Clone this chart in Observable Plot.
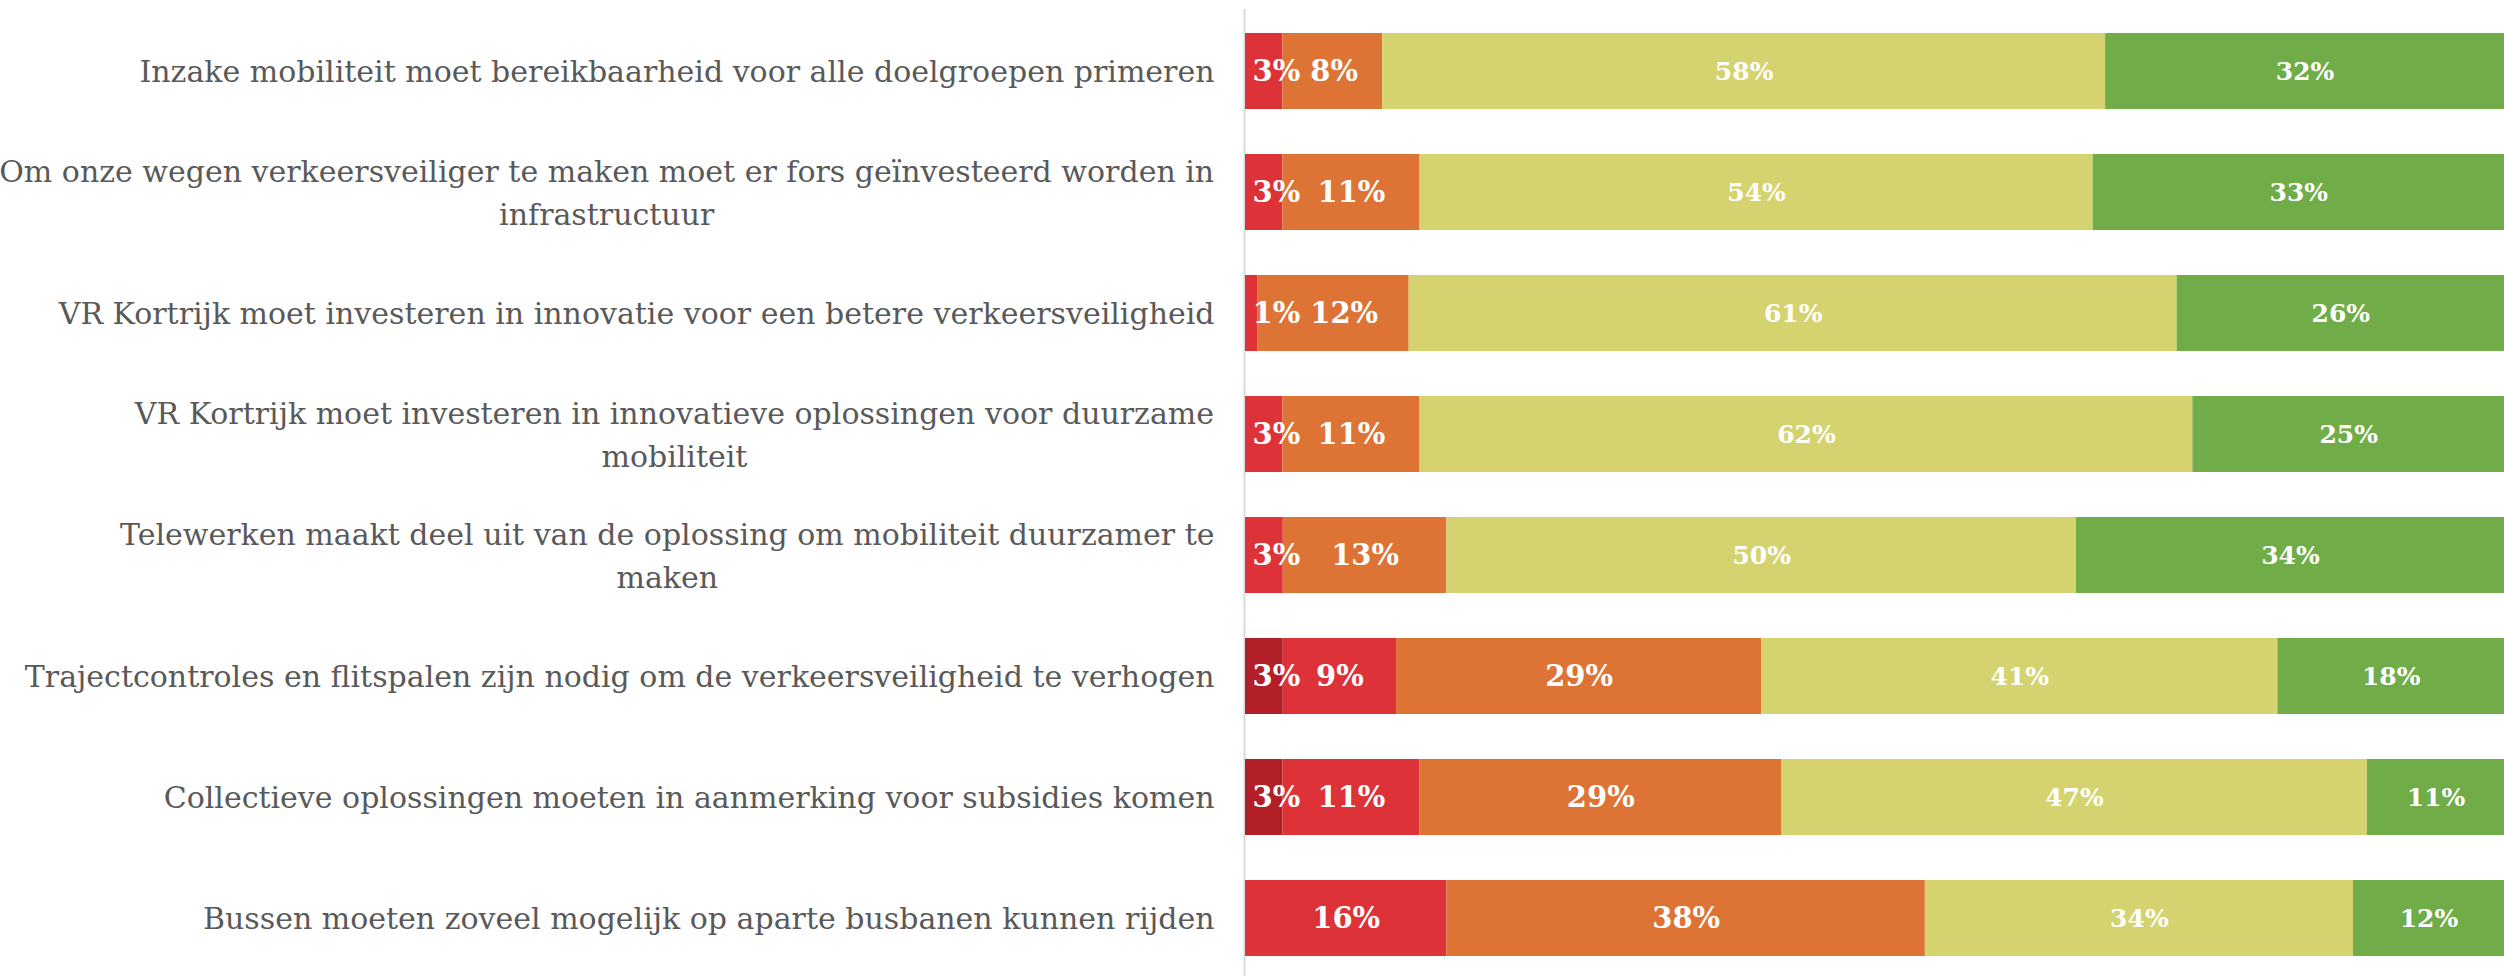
<!DOCTYPE html>
<html>
<head>
<meta charset="utf-8">
<script src="https://cdn.jsdelivr.net/npm/d3@7"></script>
<script src="https://cdn.jsdelivr.net/npm/@observablehq/plot@0.6"></script>
<style>
  html, body { margin: 0; padding: 0; background: #fff; }
</style>
</head>
<body>
<div id="chart"></div>
<script>
const statements = [
  "Inzake mobiliteit moet bereikbaarheid voor alle doelgroepen primeren",
  "Om onze wegen verkeersveiliger te maken moet er fors geïnvesteerd worden in infrastructuur",
  "VR Kortrijk moet investeren in innovatie voor een betere verkeersveiligheid",
  "VR Kortrijk moet investeren in innovatieve oplossingen voor duurzame mobiliteit",
  "Telewerken maakt deel uit van de oplossing om mobiliteit duurzamer te maken",
  "Trajectcontroles en flitspalen zijn nodig om de verkeersveiligheid te verhogen",
  "Collectieve oplossingen moeten in aanmerking voor subsidies komen",
  "Bussen moeten zoveel mogelijk op aparte busbanen kunnen rijden"
];
const tickLabels = [
  "Inzake mobiliteit moet bereikbaarheid voor alle doelgroepen primeren",
  "Om onze wegen verkeersveiliger te maken moet er fors geïnvesteerd worden in\ninfrastructuur",
  "VR Kortrijk moet investeren in innovatie voor een betere verkeersveiligheid",
  "VR Kortrijk moet investeren in innovatieve oplossingen voor duurzame\nmobiliteit",
  "Telewerken maakt deel uit van de oplossing om mobiliteit duurzamer te\nmaken",
  "Trajectcontroles en flitspalen zijn nodig om de verkeersveiligheid te verhogen",
  "Collectieve oplossingen moeten in aanmerking voor subsidies komen",
  "Bussen moeten zoveel mogelijk op aparte busbanen kunnen rijden"
];
const seriesNames = ["Helemaal niet akkoord", "Niet akkoord", "Neutraal", "Akkoord", "Helemaal akkoord"];
const stronglyDisagree = [0, 0, 0, 0, 0, 3, 3, 0];
const disagree         = [3, 3, 1, 3, 3, 9, 11, 16];
const neutral          = [8, 11, 12, 11, 13, 29, 29, 38];
const agree            = [58, 54, 61, 62, 50, 41, 47, 34];
const stronglyAgree    = [32, 33, 26, 25, 34, 18, 11, 12];
const seriesColors = ["#B11F27", "#DC3238", "#DD7334", "#D5D36F", "#70AC48"];

const seriesValues = [stronglyDisagree, disagree, neutral, agree, stronglyAgree];
const rows = statements.flatMap((s, i) =>
  seriesNames.map((k, j) => ({statement: s, series: k, value: seriesValues[j][i]}))
).filter(d => d.value > 0);

const smallLabelSeries = new Set(["Akkoord", "Helemaal akkoord"]);

const plot = Plot.plot({
  width: 2504,
  height: 976,
  marginLeft: 1245,
  marginRight: 0,
  marginTop: 31,
  marginBottom: 17,
  style: {fontFamily: "DejaVu Serif", background: "#fff"},
  x: {axis: null, domain: [0, 1]},
  y: {axis: null, domain: statements, paddingInner: 0.3696, paddingOuter: 0},
  color: {domain: seriesNames, range: seriesColors},
  marks: [
    Plot.ruleX([0], {stroke: "#d9d9d9", strokeWidth: 2, dx: -1, insetTop: -22, insetBottom: -17}),
    Plot.barX(rows, Plot.stackX({x: "value", y: "statement", fill: "series", order: seriesNames, offset: "normalize"})),
    Plot.text(rows, Plot.stackX({
      x: "value", y: "statement", z: "series", order: seriesNames, offset: "normalize",
      text: d => d.value + "%", fill: "white", fontWeight: "bold",
      fontSize: d => smallLabelSeries.has(d.series) ? 25 : 29
    })),
    Plot.axisY({
      tickSize: 0, tickPadding: 31, fontSize: 30, lineHeight: 1.43, color: "#595959", label: null, dy: -3,
      tickFormat: d => tickLabels[statements.indexOf(d)]
    })
  ]
});
document.getElementById("chart").appendChild(plot);

// center multi-line tick labels within their (right-aligned) block
plot.querySelectorAll('g[aria-label="y-axis tick label"] text').forEach(t => {
  if (t.querySelectorAll("tspan").length > 1) {
    const w = t.getBBox().width;
    t.setAttribute("text-anchor", "middle");
    t.setAttribute("transform", (t.getAttribute("transform") || "") + ` translate(${-w / 2},0)`);
  }
});

// avoid overlapping value labels (as the spreadsheet does)
const labelGroup = [...plot.querySelectorAll('g[aria-label="text"]')].pop();
const byRow = new Map();
labelGroup.querySelectorAll("text").forEach(t => {
  const m = /translate\(([-\d.]+),([-\d.]+)\)/.exec(t.getAttribute("transform"));
  if (!m) return;
  const item = {t, x: +m[1], y: +m[2], w: t.getBBox().width};
  if (!byRow.has(item.y)) byRow.set(item.y, []);
  byRow.get(item.y).push(item);
});
const x0 = 1245;
for (const items of byRow.values()) {
  items.sort((a, b) => a.x - b.x);
  let prevRight = x0 + 7 - 10;
  for (const it of items) {
    let left = it.x - it.w / 2;
    if (left < prevRight + 10) left = prevRight + 10;
    const cx = left + it.w / 2;
    it.t.setAttribute("transform", `translate(${cx},${it.y})`);
    prevRight = left + it.w;
  }
}
</script>
</body>
</html>
